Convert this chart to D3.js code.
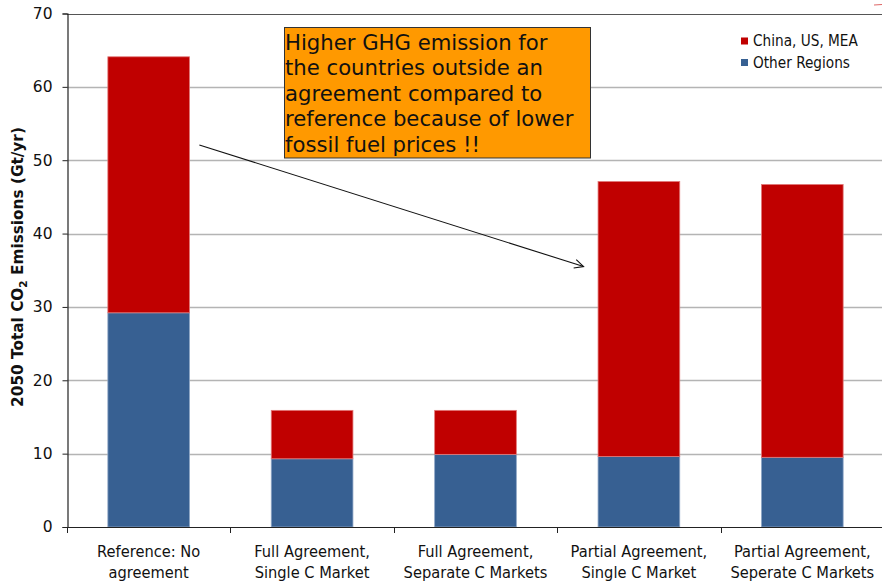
<!DOCTYPE html>
<html>
<head>
<meta charset="utf-8">
<script src="https://cdn.jsdelivr.net/npm/d3@7"></script>
<style>
  html, body { margin: 0; padding: 0; background: #fff; }
  svg { display: block; }
</style>
</head>
<body>
<svg id="chart" width="882" height="583"></svg>
<script>
// Scenario categories (two-line labels)
const categories = [
  "Reference: No|agreement",
  "Full Agreement,|Single C Market",
  "Full Agreement,|Separate C Markets",
  "Partial Agreement,|Single C Market",
  "Partial Agreement,|Seperate C Markets"
];
// 2050 emissions by region group, Gt/yr
const otherRegions = [29.2, 9.3, 9.9, 9.6, 9.5];
const chinaUsMea   = [34.9, 6.6, 6.0, 37.5, 37.2];
const yTicks = [0, 10, 20, 30, 40, 50, 60, 70];
const seriesNames = ["China, US, MEA", "Other Regions"];
const seriesColors = ["#C00000", "#376092"];
const noteLines = [
  "Higher GHG emission for",
  "the countries outside an",
  "agreement compared to",
  "reference because of lower",
  "fossil fuel prices !!"
];

const svg = d3.select("#chart");
const plotLeft = 67, plotRight = 884, plotTop = 13.5, plotBottom = 527;

const x = d3.scaleBand().domain(categories).range([plotLeft, plotRight])
  .paddingInner(0.5).paddingOuter(0.25);
const y = d3.scaleLinear().domain([0, 70]).range([plotBottom, plotTop]);

// Stack the two series
const rows = categories.map((c, i) => ({ cat: c, other: otherRegions[i], china: chinaUsMea[i] }));
const stack = d3.stack().keys(["other", "china"])(rows);

// Gridlines
svg.append("g").selectAll("line").data(yTicks.filter(t => t > 0 && t < 70)).join("line")
  .attr("x1", plotLeft).attr("x2", 882)
  .attr("y1", d => Math.round(y(d)) + 0.5).attr("y2", d => Math.round(y(d)) + 0.5)
  .attr("stroke", "#b4b4b4").attr("stroke-width", 1.6);

// Top border of plot
svg.append("line").attr("x1", plotLeft).attr("x2", 882)
  .attr("y1", Math.round(y(70)) + 0.5).attr("y2", Math.round(y(70)) + 0.5)
  .attr("stroke", "#555").attr("stroke-width", 1.2);

// Bars
const colorFor = { other: "#376092", china: "#C00000" };
const strokeFor = { other: "#8fa7c6", china: "#e27a7a" };
stack.forEach(layer => {
  svg.append("g").selectAll("rect").data(layer).join("rect")
    .attr("x", d => x(d.data.cat))
    .attr("width", x.bandwidth())
    .attr("y", d => y(d[1]))
    .attr("height", d => y(d[0]) - y(d[1]))
    .attr("fill", colorFor[layer.key])
    .attr("stroke", strokeFor[layer.key])
    .attr("stroke-width", 0.8);
});

// Y axis
const yAxis = d3.axisLeft(y).tickValues(yTicks).tickSize(5).tickPadding(10);
const gy = svg.append("g").attr("transform", `translate(${plotLeft + 0.5},0)`).call(yAxis);
gy.select(".domain").attr("stroke", "#222").attr("stroke-width", 1.2);
gy.selectAll(".tick line").attr("stroke", "#222");
gy.selectAll(".tick text").attr("font-family", "Verdana, 'DejaVu Sans', sans-serif")
  .attr("font-size", 15.5).attr("fill", "#111");

// X axis line with tick marks at category boundaries
svg.append("line").attr("x1", plotLeft).attr("x2", 882)
  .attr("y1", plotBottom + 0.5).attr("y2", plotBottom + 0.5).attr("stroke", "#222").attr("stroke-width", 1.2);
const bounds = d3.range(categories.length + 1).map(i => plotLeft + i * x.step());
svg.append("g").selectAll("line").data(bounds).join("line")
  .attr("x1", d => Math.round(d) + 0.5).attr("x2", d => Math.round(d) + 0.5)
  .attr("y1", plotBottom).attr("y2", plotBottom + 6).attr("stroke", "#222");

// Category labels
const catG = svg.append("g").attr("font-family", "'DejaVu Sans Condensed', 'DejaVu Sans', sans-serif")
  .attr("font-size", 16.3).attr("fill", "#111").attr("text-anchor", "middle");
categories.forEach(c => {
  const parts = c.split("|");
  const cx = x(c) + x.bandwidth() / 2;
  parts.forEach((p, j) => {
    catG.append("text").attr("x", cx).attr("y", 557 + j * 20.5).text(p);
  });
});

// Y axis title with subscript
const yt = svg.append("text")
  .attr("transform", "translate(23,267) rotate(-90)")
  .attr("text-anchor", "middle")
  .attr("font-family", "Verdana, 'DejaVu Sans', sans-serif")
  .attr("font-size", 15.3).attr("font-weight", "bold").attr("fill", "#111");
yt.append("tspan").text("2050 Total CO");
yt.append("tspan").attr("font-size", 10.5).attr("dy", 4).text("2");
yt.append("tspan").attr("dy", -4).text(" Emissions (Gt/yr)");

// Legend
const lg = svg.append("g").attr("font-family", "'DejaVu Sans Condensed', 'DejaVu Sans', sans-serif")
  .attr("font-size", 15.2).attr("fill", "#111");
seriesNames.forEach((n, i) => {
  const cy = 41 + i * 21.5;
  lg.append("rect").attr("x", 741).attr("y", cy - 3.5).attr("width", 7).attr("height", 7)
    .attr("fill", seriesColors[i]);
  lg.append("text").attr("x", 753).attr("y", cy).attr("dominant-baseline", "central").text(n);
});

// Small mark at the top-right corner
svg.append("line").attr("x1", 874).attr("x2", 882).attr("y1", 5).attr("y2", 4.5)
  .attr("stroke", "#d66").attr("stroke-width", 1);

// Annotation box
svg.append("rect").attr("x", 284.5).attr("y", 27.5).attr("width", 306).attr("height", 130.5)
  .attr("fill", "#FF9900").attr("stroke", "#333").attr("stroke-width", 1);
const note = svg.append("g").attr("font-family", "Verdana, 'DejaVu Sans', sans-serif")
  .attr("font-size", 21.2).attr("fill", "#111");
noteLines.forEach((t, i) => {
  note.append("text").attr("x", 285).attr("y", 49.5 + i * 25.6).text(t);
});

// Arrow from the reference bar to the partial-agreement bar
const ax1 = x(categories[0]) + x.bandwidth() * 1.12, ay1 = 145;
const ax2 = x(categories[3]) - 14.5, ay2 = 266.5;
svg.append("line").attr("x1", ax1).attr("y1", ay1).attr("x2", ax2).attr("y2", ay2)
  .attr("stroke", "#111").attr("stroke-width", 1.1);
const ang = Math.atan2(ay2 - ay1, ax2 - ax1);
const hl = 10, ha = 0.45;
svg.append("path")
  .attr("d", `M${ax2 - hl * Math.cos(ang - ha)},${ay2 - hl * Math.sin(ang - ha)} L${ax2},${ay2} L${ax2 - hl * Math.cos(ang + ha)},${ay2 - hl * Math.sin(ang + ha)}`)
  .attr("fill", "none").attr("stroke", "#111").attr("stroke-width", 1.1);
</script>
</body>
</html>
